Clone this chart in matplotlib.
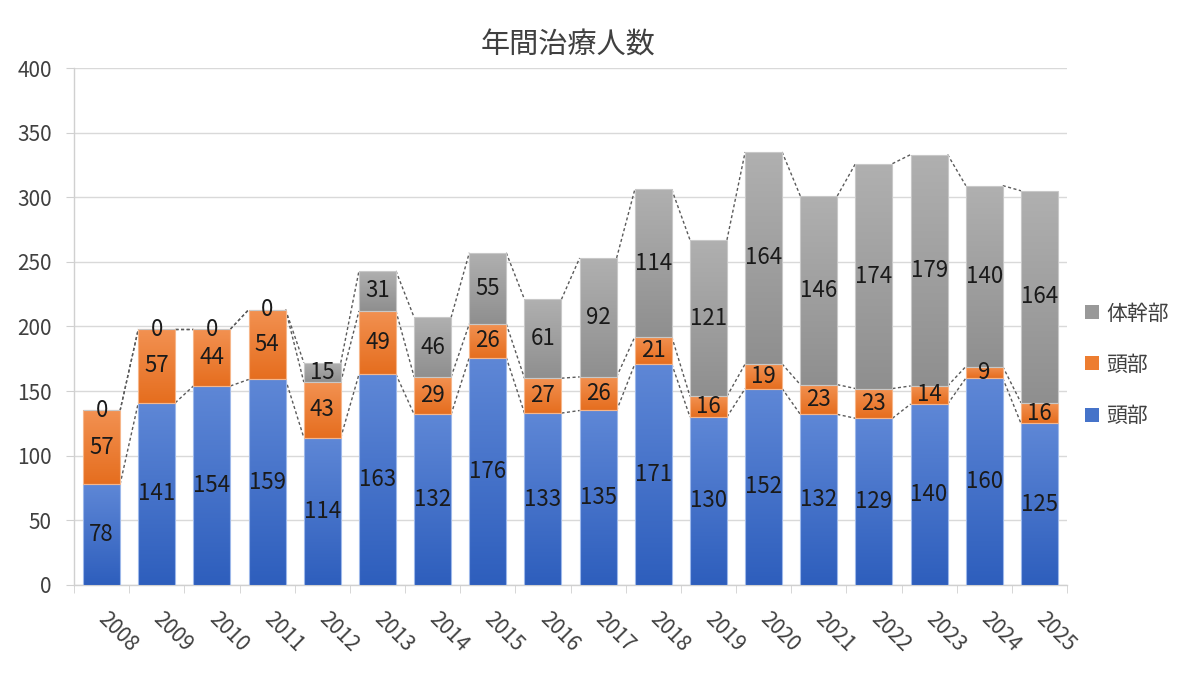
import numpy as np
import matplotlib
matplotlib.use("Agg")
import matplotlib.pyplot as plt
from matplotlib.patches import Patch

plt.rcParams['font.family'] = ['Noto Sans CJK JP', 'DejaVu Sans']

years = [str(y) for y in range(2008, 2026)]
head_blue = [78, 141, 154, 159, 114, 163, 132, 176, 133, 135, 171, 130, 152, 132, 129, 140, 160, 125]
head_orange = [57, 57, 44, 54, 43, 49, 29, 26, 27, 26, 21, 16, 19, 23, 23, 14, 9, 16]
trunk = [0, 0, 0, 0, 15, 31, 46, 55, 61, 92, 114, 121, 164, 146, 174, 179, 140, 164]
series_names = ['頭部', '頭部', '体幹部']
title = '年間治療人数'

fig = plt.figure(figsize=(12, 6.78), dpi=100)
ax = fig.add_axes([0.0617, 0.1372, 0.8275, 0.7625])

x = np.arange(len(years))
w = 0.67
b = np.array(head_blue)
o = np.array(head_orange)
g = np.array(trunk)

styles = [
    ((0.37, 0.53, 0.84), (0.18, 0.37, 0.74), '#9db8ea'),
    ((0.95, 0.57, 0.32), (0.90, 0.43, 0.12), '#f6b68a'),
    ((0.69, 0.69, 0.69), (0.56, 0.56, 0.56), '#c8c8c8'),
]
vals = [b, o, g]
bottoms = [np.zeros_like(b), b, b + o]

for v, bt, (top, bot, ec) in zip(vals, bottoms, styles):
    bars = ax.bar(x, v, w, bottom=bt, facecolor='none', edgecolor=ec, linewidth=0.8, zorder=3)
    tt = np.linspace(0, 1, 128)[:, None, None]
    img = np.array(top)[None, None, :] * (1 - tt) + np.array(bot)[None, None, :] * tt
    for p in bars:
        h = p.get_height()
        if h <= 0:
            continue
        x0, y0 = p.get_x(), p.get_y()
        im = ax.imshow(img, extent=(x0, x0 + p.get_width(), y0, y0 + h), origin='upper',
                       aspect='auto', interpolation='bilinear', zorder=2.9)
        im.set_clip_path(p)

# series lines
for level in [b, b + o, b + o + g]:
    for i in range(len(x) - 1):
        ax.plot([x[i] + w / 2, x[i + 1] - w / 2], [level[i], level[i + 1]],
                linestyle=(0, (2.2, 1.8)), color='#5a5a5a', linewidth=1.0, zorder=2.5)

# data labels
for v, bt in zip(vals, bottoms):
    for i in range(len(x)):
        ax.text(x[i], bt[i] + v[i] / 2, str(v[i]), ha='center', va='center',
                fontsize=16, color='#1a1a1a', zorder=5)

ax.set_xlim(-0.5, len(x) - 0.5)
ax.set_ylim(0, 400)
ax.set_yticks(np.arange(0, 401, 50))
ax.yaxis.grid(True, color='#d9d9d9', linewidth=1.0)
ax.set_axisbelow(True)
for s in ['top', 'right']:
    ax.spines[s].set_visible(False)
for s in ['left', 'bottom']:
    ax.spines[s].set_color('#d0d0d0')
    ax.spines[s].set_linewidth(1.0)
ax.tick_params(axis='y', length=6, color='#d0d0d0', labelsize=15, labelcolor='#404040', pad=10)

ax.set_xticks(x)
ax.set_xticklabels(years)
ax.set_xticks(np.arange(-0.5, len(x), 1.0), minor=True)
ax.tick_params(axis='x', which='major', length=0, labelsize=15, labelcolor='#404040', pad=22)
ax.tick_params(axis='x', which='minor', length=6, color='#d0d0d0')
for lab in ax.get_xticklabels():
    lab.set_rotation(-45)
    lab.set_ha('left')
    lab.set_va('center')
    lab.set_rotation_mode('anchor')

fig.text(0.473, 0.933, title, ha='center', va='center', fontsize=21, color='#404040')

handles = [Patch(facecolor=(0.6, 0.6, 0.6)), Patch(facecolor=(0.93, 0.49, 0.19)),
           Patch(facecolor=(0.27, 0.45, 0.79))]
labels = [series_names[2], series_names[1], series_names[0]]
fig.legend(handles, labels, loc='center left', bbox_to_anchor=(0.901, 0.462), frameon=False,
           fontsize=15, handlelength=0.65, handleheight=0.65, handletextpad=0.35,
           labelspacing=1.4, labelcolor='#404040', borderaxespad=0, borderpad=0.2)

fig.savefig('out.png', dpi=100)
